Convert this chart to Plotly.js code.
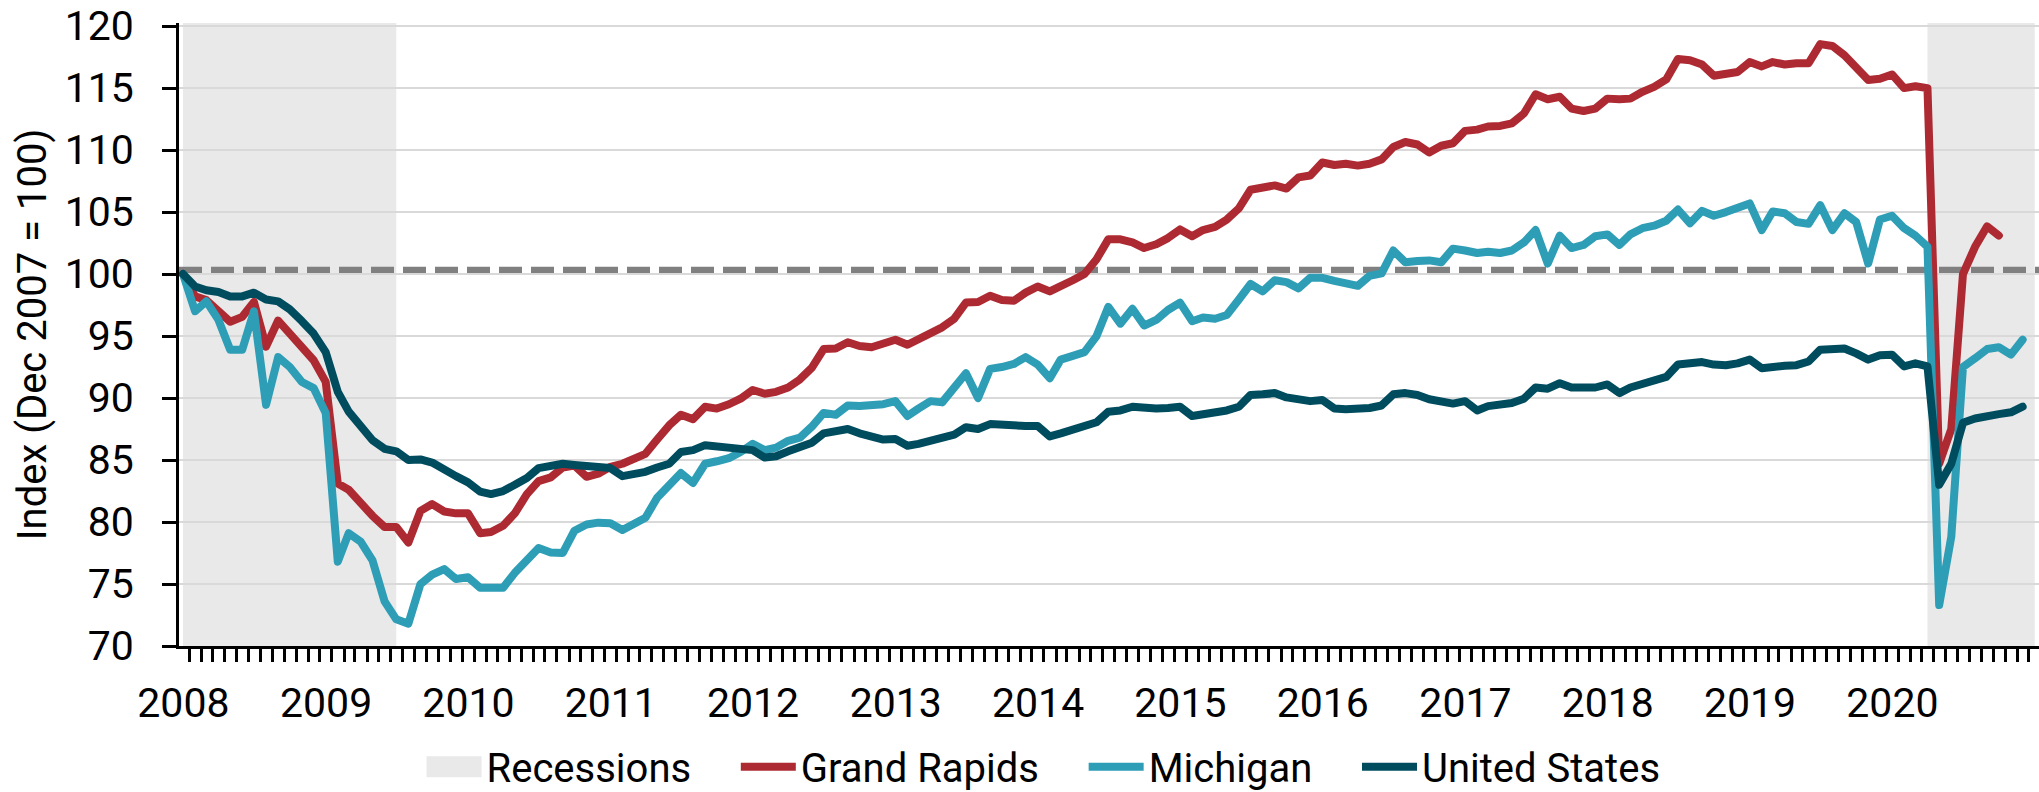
<!DOCTYPE html>
<html>
<head>
<meta charset="utf-8">
<script src="https://cdn.plot.ly/plotly-3.0.1.min.js"></script>
<style>
  html, body { margin: 0; padding: 0; background: #ffffff; }
  #chart { width: 2039px; height: 792px; }
  .scatterlayer .js-line { stroke-linejoin: round !important; stroke-linecap: round !important; }
</style>
</head>
<body>
<div id="chart"></div>
<script>
// ---------------- DATA ----------------
// Monthly index, Dec 2007 = 100. First value is Dec 2007.
const firstMonth = { year: 2007, month: 12 };

const grandRapids = [
  100,
  98.2, 97.9, 97.1, 96.15, 96.55, 97.75, 94.15, 96.25, 95.2, 94.15, 93.05, 91.3,
  83.1, 82.6, 81.45, 80.5, 79.6, 79.6, 78.35, 80.9, 81.45, 80.85, 80.7, 80.7,
  79.1, 79.2, 79.7, 80.7, 82.25, 83.3, 83.6, 84.4, 84.55, 83.65, 83.9, 84.45,
  84.7, 85.15, 85.5, 86.65, 87.8, 88.65, 88.3, 89.3, 89.15, 89.5, 89.95, 90.65,
  90.35, 90.5, 90.85, 91.5, 92.45, 93.95, 94.0, 94.5, 94.2, 94.1, 94.35, 94.7,
  94.3, 94.7, 95.2, 95.7, 96.4, 97.7, 97.75, 98.25, 97.9, 97.85, 98.5, 99.0,
  98.6, 99.1, 99.5, 100.0, 101.2, 102.8, 102.8, 102.55, 102.1, 102.4, 102.9, 103.6,
  103.05, 103.55, 103.8, 104.4, 105.3, 106.8, 107.05, 107.15, 106.9, 107.8, 107.95, 109.0,
  108.8, 108.9, 108.75, 108.9, 109.25, 110.25, 110.65, 110.45, 109.8, 110.35, 110.55, 111.55,
  111.65, 111.9, 111.95, 112.15, 112.95, 114.5, 114.1, 114.3, 113.35, 113.15, 113.35, 114.15,
  114.1, 114.15, 114.7, 115.1, 115.7, 117.35, 117.25, 116.9, 116.0, 116.1, 116.3, 117.1,
  116.75, 117.1, 116.9, 117.0, 117.0, 118.55, 118.4, 117.65, 116.65, 115.65, 115.75, 116.1,
  115.0, 115.15, 115.0, 84.7, 87.5, 100.0, 102.2, 103.85, 103.1
];

const michigan = [
  100,
  97.0, 97.8, 96.3, 93.9, 93.9, 97.0, 89.45, 93.3, 92.5, 91.3, 90.8, 88.8,
  76.8, 79.1, 78.4, 76.9, 73.6, 72.15, 71.8, 75.0, 75.75, 76.2, 75.4, 75.55,
  74.7, 74.7, 74.7, 75.9, 76.9, 77.9, 77.55, 77.5, 79.3, 79.8, 79.95, 79.9,
  79.35, 79.9, 80.35, 81.95, 83.05, 83.95, 83.15, 84.7, 84.9, 85.15, 85.65, 86.3,
  85.8, 86.0, 86.55, 86.8, 87.7, 88.8, 88.65, 89.4, 89.35, 89.4, 89.5, 89.75,
  88.55, 89.15, 89.75, 89.65, 90.85, 92.0, 90.0, 92.35, 92.5, 92.75, 93.3, 92.7,
  91.6, 93.1, 93.4, 93.7, 95.0, 97.35, 96.0, 97.2, 95.85, 96.3, 97.1, 97.7,
  96.2, 96.5, 96.4, 96.7, 97.95, 99.2, 98.6, 99.5, 99.35, 98.85, 99.7, 99.7,
  99.45, 99.25, 99.05, 99.85, 100.05, 101.9, 100.95, 101.05, 101.1, 100.95, 102.05, 101.9,
  101.7, 101.8, 101.7, 101.9, 102.55, 103.55, 100.85, 103.1, 102.1, 102.35, 103.05, 103.2,
  102.35, 103.2, 103.7, 103.9, 104.3, 105.2, 104.1, 105.1, 104.7, 105.0, 105.4, 105.7,
  103.55, 105.05, 104.9, 104.2, 104.05, 105.55, 103.55, 104.9, 104.2, 100.85, 104.4, 104.7,
  103.7, 103.1, 102.2, 73.3, 78.8, 92.5, 93.2, 93.95, 94.1, 93.5, 94.7
];

const unitedStates = [
  100,
  99.0, 98.7, 98.55, 98.2, 98.2, 98.5, 97.95, 97.8, 97.15, 96.2, 95.2, 93.7,
  90.5, 88.9, 87.7, 86.6, 85.9, 85.7, 85.0, 85.05, 84.8, 84.15, 83.7, 83.2,
  82.45, 82.25, 82.5, 83.0, 83.55, 84.35, 84.45, 84.7, 84.6, 84.5, 84.4, 84.35,
  83.7, 83.8, 84.05, 84.4, 84.7, 85.65, 85.8, 86.2, 86.1, 86.0, 85.8, 85.8,
  85.2, 85.3, 85.7, 86.0, 86.4, 87.15, 87.3, 87.5, 87.15, 86.9, 86.65, 86.7,
  86.15, 86.3, 86.55, 86.65, 87.05, 87.65, 87.5, 87.9, 87.8, 87.75, 87.75, 87.75,
  86.9, 87.15, 87.4, 87.65, 88.05, 88.9, 89.0, 89.3, 89.2, 89.15, 89.2, 89.3,
  88.55, 88.65, 88.9, 89.0, 89.3, 90.25, 90.3, 90.4, 90.05, 89.9, 89.75, 89.85,
  89.15, 89.1, 89.1, 89.2, 89.4, 90.3, 90.4, 90.25, 89.9, 89.75, 89.55, 89.75,
  89.0, 89.35, 89.5, 89.6, 89.95, 90.85, 90.75, 91.2, 90.85, 90.8, 90.85, 91.1,
  90.4, 90.85, 91.1, 91.3, 91.7, 92.7, 92.75, 92.9, 92.7, 92.65, 92.8, 93.1,
  92.4, 92.55, 92.6, 92.65, 92.95, 93.9, 93.95, 94.0, 93.6, 93.1, 93.45, 93.5,
  92.55, 92.8, 92.55, 83.0, 84.7, 88.0, 88.35, 88.6, 88.7, 88.85, 89.3
];

// Recession periods (month-end dates)
const recessionStart = ['2007-12-31', '2020-03-31'];
const recessionEnd   = ['2009-06-30', '2020-12-31'];

// Reference line value
const baseValue = 100.3;

// Tick labels
const yearLabels = ['2008','2009','2010','2011','2012','2013','2014','2015','2016','2017','2018','2019','2020'];
const yTicks = [70, 75, 80, 85, 90, 95, 100, 105, 110, 115, 120];

// Series names
const names = ['Recessions', 'Grand Rapids', 'Michigan', 'United States'];

// ---------------- HELPERS ----------------
function pad(n) { return (n < 10 ? '0' : '') + n; }
function monthEnds(start, n) {
  const out = [];
  for (let k = 0; k < n; k++) {
    const m0 = (start.month - 1) + k;
    const y = start.year + Math.floor(m0 / 12);
    const m = (m0 % 12) + 1;
    const d = new Date(Date.UTC(y, m, 0)).getUTCDate();
    out.push(y + '-' + pad(m) + '-' + pad(d));
  }
  return out;
}
const GAP = '\u00a0\u00a0\u00a0\u00a0';   // spacing after each legend label

const nMax = Math.max(grandRapids.length, michigan.length, unitedStates.length);
const months = monthEnds(firstMonth, nMax);

const COLORS = {
  recession: '#e9e9e9',
  gr: '#ae2a32',
  mi: '#2e9db6',
  us: '#004c5f',
  base: '#808080',
  grid: '#d9d9d9'
};
const FONT = 'Roboto, Liberation Sans, Arial, sans-serif';

const traces = [
  { // legend entry for recessions (bands are drawn as shapes)
    type: 'scatter', mode: 'lines', x: [null], y: [null], name: names[0] + GAP,
    line: { color: COLORS.recession, width: 10 }, hoverinfo: 'skip'
  },
  {
    type: 'scatter', mode: 'lines', name: names[1] + GAP,
    x: months.slice(0, grandRapids.length), y: grandRapids,
    line: { color: COLORS.gr, width: 8 }
  },
  {
    type: 'scatter', mode: 'lines', name: names[2] + GAP,
    x: months.slice(0, michigan.length), y: michigan,
    line: { color: COLORS.mi, width: 8 }
  },
  {
    type: 'scatter', mode: 'lines', name: names[3],
    x: months.slice(0, unitedStates.length), y: unitedStates,
    line: { color: COLORS.us, width: 8 }
  }
];

const shapes = [];
for (let i = 0; i < recessionStart.length; i++) {
  shapes.push({
    type: 'rect', xref: 'x', yref: 'paper',
    x0: recessionStart[i], x1: recessionEnd[i], y0: 0, y1: 1,
    fillcolor: COLORS.recession, line: { width: 0 }, layer: 'below'
  });
}
shapes.push({
  type: 'line', xref: 'paper', yref: 'y', x0: 0, x1: 1, y0: baseValue, y1: baseValue,
  line: { color: COLORS.base, width: 7, dash: '23px,9px' }, layer: 'between'
});

const tickDates = yearLabels.map(y => y + '-01-01');

const layout = {
  width: 2039, height: 792,
  margin: { l: 179, r: 0, t: 23, b: 146 },
  paper_bgcolor: '#ffffff', plot_bgcolor: '#ffffff',
  font: { family: FONT, size: 40, color: '#000000' },
  showlegend: true,
  hovermode: false,
  xaxis: {
    type: 'date',
    range: ['2007-12-20 18:00', '2021-01-11'],
    tickmode: 'array', tickvals: tickDates, ticktext: yearLabels,
    ticks: 'outside', ticklen: 13, tickcolor: 'rgba(0,0,0,0)',
    tickfont: { family: FONT, size: 41, color: '#000' },
    ticklabelstandoff: 6, ticklabeloverflow: 'allow',
    showline: true, linecolor: '#000', linewidth: 3,
    showgrid: false, zeroline: false,
    minor: { ticks: 'outside', ticklen: 13, tickwidth: 3, tickcolor: '#000',
             dtick: 'M1', tick0: '2007-12-16', showgrid: false },
    automargin: false, fixedrange: true
  },
  yaxis: {
    range: [70, 120.25],
    tickmode: 'array', tickvals: yTicks, ticktext: yTicks.map(String),
    ticks: 'outside', ticklen: 14, tickwidth: 3, tickcolor: '#000',
    tickfont: { family: FONT, size: 41, color: '#000' },
    ticklabelstandoff: 20, ticklabeloverflow: 'allow',
    showline: true, linecolor: '#000', linewidth: 3,
    showgrid: true, gridcolor: COLORS.grid, gridwidth: 2,
    zeroline: false,
    title: { text: 'Index (Dec 2007 = 100)', font: { family: FONT, size: 40, color: '#000' }, standoff: 6 },
    automargin: false, fixedrange: true
  },
  legend: {
    orientation: 'h', xref: 'paper', x: 0.1304, xanchor: 'left',
    yref: 'container', y: 0.032, yanchor: 'middle',
    font: { family: FONT, size: 40, color: '#000' },
    itemwidth: 55, bgcolor: 'rgba(0,0,0,0)', traceorder: 'normal'
  },
  shapes: shapes
};

Plotly.newPlot('chart', traces, layout, { staticPlot: true, displayModeBar: false }).then(function (gd) {
  // make the "Recessions" legend key a solid block like the shaded bands
  gd.querySelectorAll('.legend .traces').forEach(function (g) {
    const t = g.querySelector('.legendtext');
    if (t && t.textContent.indexOf(names[0]) === 0) {
      const p = g.querySelector('.legendlines path');
      if (p) { p.style.strokeWidth = '21px'; p.style.strokeLinecap = 'butt'; }
    }
  });
});
</script>
</body>
</html>
